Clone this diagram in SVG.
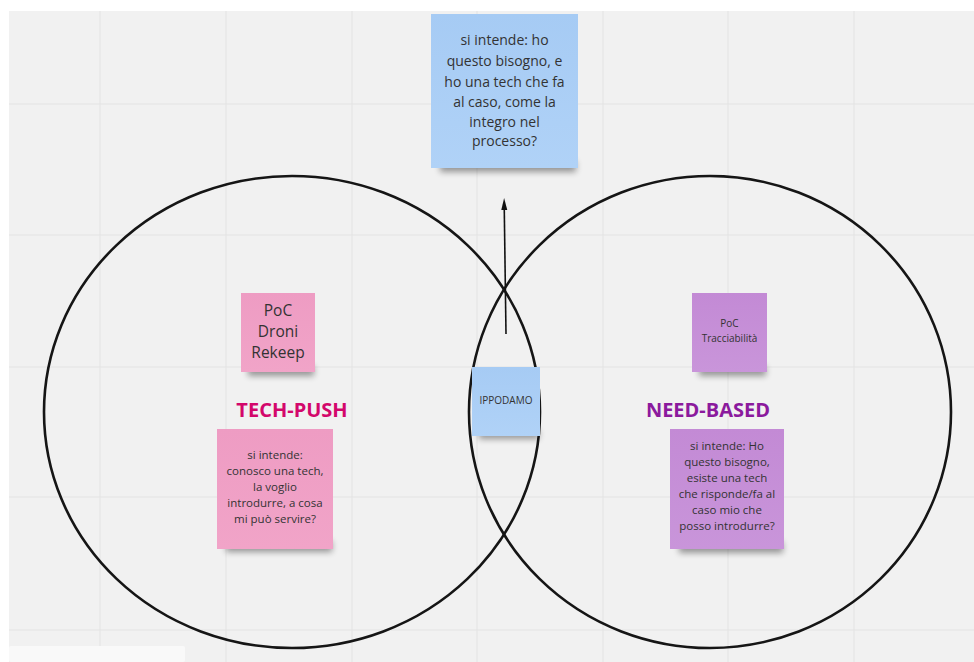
<svg xmlns="http://www.w3.org/2000/svg" width="974" height="662" viewBox="0 0 974 662">
  <defs>
    <filter id="soft" x="-20%" y="-100%" width="140%" height="300%">
      <feGaussianBlur stdDeviation="3"/>
    </filter>
    <linearGradient id="blueFill" x1="0" y1="0" x2="0" y2="1">
      <stop offset="0" stop-color="#a6cbf4"/>
      <stop offset="1" stop-color="#b0d2f7"/>
    </linearGradient>
    <linearGradient id="pinkFill" x1="0" y1="0" x2="0" y2="1">
      <stop offset="0" stop-color="#ee9cc3"/>
      <stop offset="1" stop-color="#f1a4c8"/>
    </linearGradient>
    <linearGradient id="purpleFill" x1="0" y1="0" x2="0" y2="1">
      <stop offset="0" stop-color="#c38ad5"/>
      <stop offset="1" stop-color="#c995da"/>
    </linearGradient>
    <marker id="arrowHead" markerUnits="userSpaceOnUse" markerWidth="12" markerHeight="20" refX="10" refY="5" orient="auto" viewBox="0 0 20 10">
      <path d="M0,0 L20,5 L0,10 Z" fill="#111"/>
    </marker>
  </defs>
  <style>
    .grid { stroke: #e3e3e3; stroke-width: 1; }
    .ring { fill: none; stroke: #151515; stroke-width: 2.6; }
    .shadow { fill: #000; opacity: 0.38; filter: url(#soft); }
    .note { font-family: "Open Sans", "Noto Sans", "Liberation Sans", sans-serif; fill: #333333; text-anchor: middle; }
    .title { font-family: "Open Sans", "Noto Sans", "Liberation Sans", sans-serif; font-weight: 700; font-size: 20px; text-anchor: middle; }
    .link { stroke: #111; stroke-width: 1.6; fill: none; }
  </style>

  <!-- board background -->
  <rect x="0" y="0" width="974" height="662" fill="#ffffff"/>
  <rect x="9" y="11" width="965" height="651" fill="#f1f1f1"/>
  <g id="grid">
    <line class="grid" x1="100" y1="11" x2="100" y2="662"/>
    <line class="grid" x1="226" y1="11" x2="226" y2="662"/>
    <line class="grid" x1="352" y1="11" x2="352" y2="662"/>
    <line class="grid" x1="477" y1="11" x2="477" y2="662"/>
    <line class="grid" x1="603" y1="11" x2="603" y2="662"/>
    <line class="grid" x1="728" y1="11" x2="728" y2="662"/>
    <line class="grid" x1="854" y1="11" x2="854" y2="662"/>
    <line class="grid" x1="9" y1="104" x2="974" y2="104"/>
    <line class="grid" x1="9" y1="235" x2="974" y2="235"/>
    <line class="grid" x1="9" y1="367" x2="974" y2="367"/>
    <line class="grid" x1="9" y1="497" x2="974" y2="497"/>
    <line class="grid" x1="9" y1="630" x2="974" y2="630"/>
  </g>
  <rect x="9" y="646" width="176" height="16" rx="2" fill="#f9f9f9"/>

  <!-- the two overlapping sets -->
  <g id="set-tech-push">
    <ellipse class="ring" cx="292" cy="412" rx="248" ry="236"/>
  </g>
  <g id="set-need-based">
    <ellipse class="ring" cx="710" cy="412" rx="241" ry="236"/>
  </g>

  <!-- connectors -->
  <g id="connectors">
    <line class="link" x1="506" y1="334" x2="504.2" y2="204" marker-end="url(#arrowHead)"/>
  </g>

  <!-- sticky notes -->
  <g id="note-integration">
    <rect class="shadow" x="440" y="161" width="136" height="11"/>
    <rect x="431" y="14" width="147" height="154" fill="url(#blueFill)"/>
    <text class="note" font-size="14" x="504.5" y="45">si intende: ho</text>
    <text class="note" font-size="14" x="504.5" y="66">questo bisogno, e</text>
    <text class="note" font-size="14" x="504.5" y="86.5">ho una tech che fa</text>
    <text class="note" font-size="14" x="504.5" y="106.5">al caso, come la</text>
    <text class="note" font-size="14" x="504.5" y="126.5">integro nel</text>
    <text class="note" font-size="14" x="504.5" y="146">processo?</text>
  </g>

  <g id="note-droni">
    <rect class="shadow" x="248" y="366" width="66" height="10"/>
    <rect x="241" y="293" width="74" height="79" fill="url(#pinkFill)"/>
    <text class="note" font-size="15.5" x="278" y="316">PoC</text>
    <text class="note" font-size="15.5" x="278" y="337">Droni</text>
    <text class="note" font-size="15.5" x="278" y="358">Rekeep</text>
  </g>

  <g id="label-tech-push">
    <text class="title" x="292" y="417" fill="#d3076b">TECH-PUSH</text>
  </g>

  <g id="note-tech-push">
    <rect class="shadow" x="226" y="541" width="106" height="11"/>
    <rect x="217" y="429" width="116" height="120" fill="url(#pinkFill)"/>
    <text class="note" font-size="11.5" x="275" y="459">si intende:</text>
    <text class="note" font-size="11.5" x="275" y="475">conosco una tech,</text>
    <text class="note" font-size="11.5" x="275" y="491">la voglio</text>
    <text class="note" font-size="11.5" x="275" y="507">introdurre, a cosa</text>
    <text class="note" font-size="11.5" x="275" y="523">mi può servire?</text>
  </g>

  <g id="note-tracciabilita">
    <rect class="shadow" x="699" y="366" width="67" height="10"/>
    <rect x="692" y="293" width="75" height="79" fill="url(#purpleFill)"/>
    <text class="note" font-size="10" x="729.5" y="327">PoC</text>
    <text class="note" font-size="10" x="729.5" y="342">Tracciabilità</text>
  </g>

  <g id="label-need-based">
    <text class="title" x="708" y="417" fill="#8b1a9d">NEED-BASED</text>
  </g>

  <g id="note-need-based">
    <rect class="shadow" x="679" y="542" width="104" height="11"/>
    <rect x="670" y="429" width="114" height="120" fill="url(#purpleFill)"/>
    <text class="note" font-size="11.5" x="727" y="450">si intende: Ho</text>
    <text class="note" font-size="11.5" x="727" y="466">questo bisogno,</text>
    <text class="note" font-size="11.5" x="727" y="482">esiste una tech</text>
    <text class="note" font-size="11.5" x="727" y="498">che risponde/fa al</text>
    <text class="note" font-size="11.5" x="727" y="514">caso mio che</text>
    <text class="note" font-size="11.5" x="727" y="530">posso introdurre?</text>
  </g>

  <g id="note-ippodamo">
    <rect class="shadow" x="479" y="430" width="60" height="9"/>
    <rect x="472" y="367" width="68" height="69" fill="url(#blueFill)"/>
    <text class="note" font-size="10" x="506" y="404">IPPODAMO</text>
  </g>
</svg>
